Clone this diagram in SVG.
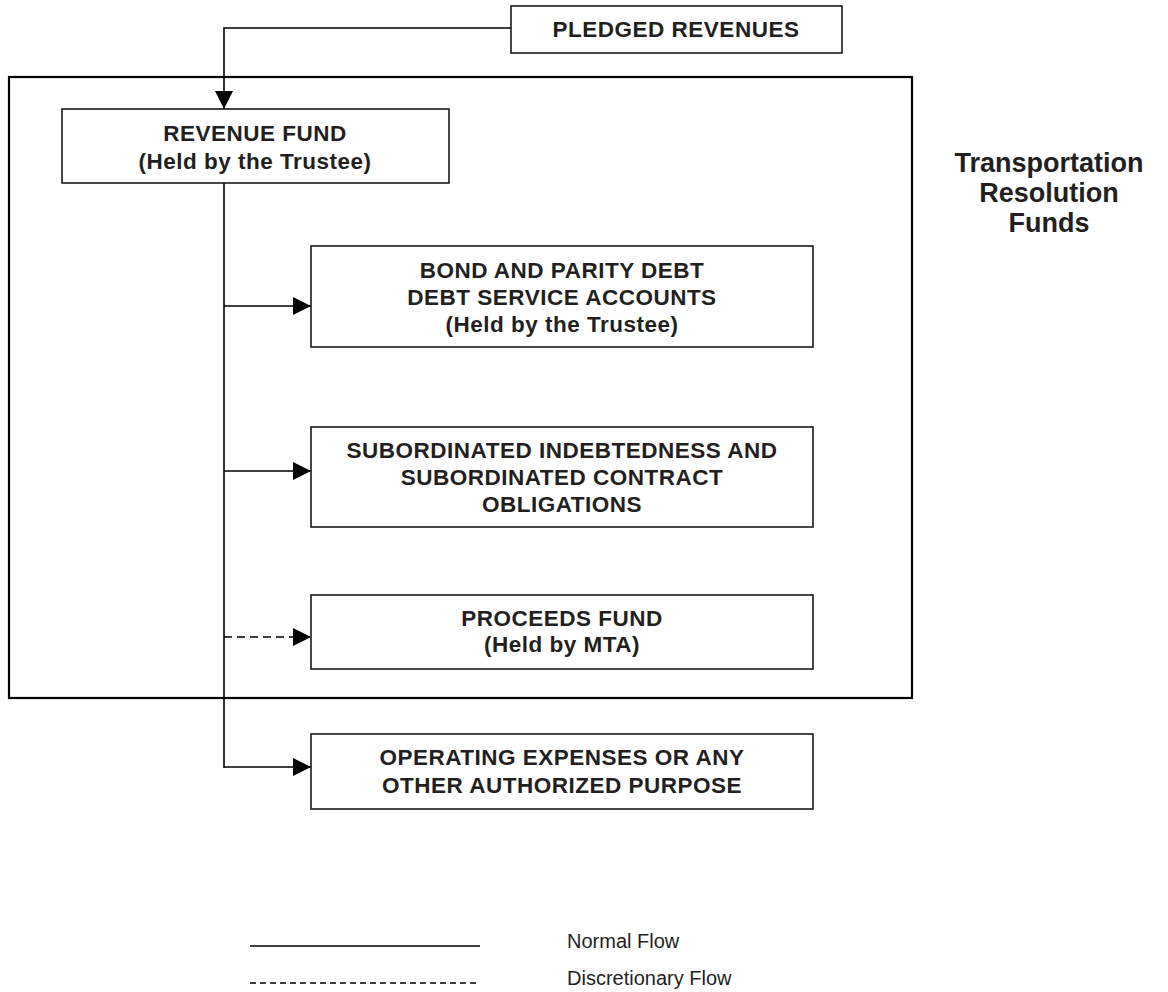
<svg xmlns="http://www.w3.org/2000/svg" width="1168" height="992" viewBox="0 0 1168 992">
<style>
.box{fill:#fff;stroke:#1a1a1a;stroke-width:1.6}
.frame{fill:none;stroke:#000;stroke-width:2.2}
.t{font-family:"Liberation Sans",Arial,sans-serif;font-weight:bold;font-size:22.5px;letter-spacing:0.5px;fill:#231f20;text-anchor:middle}
.big{font-family:"Liberation Sans",Arial,sans-serif;font-weight:bold;font-size:27px;fill:#231f20;text-anchor:middle}
.leg{font-family:"Liberation Sans",Arial,sans-serif;font-size:20px;fill:#231f20}
.c{fill:none;stroke:#000;stroke-width:1.6}
.d{stroke-dasharray:8,5}
</style>
<defs>
<marker id="arr" markerUnits="userSpaceOnUse" markerWidth="18" markerHeight="18" refX="18" refY="9" orient="auto"><path d="M0,0 L18,9 L0,18 z" fill="#000"/></marker>
</defs>
<g id="frame">
<rect class="frame" x="9" y="77" width="903" height="621"/>
<text class="big" x="1049" y="172">Transportation</text>
<text class="big" x="1049" y="202">Resolution</text>
<text class="big" x="1049" y="232">Funds</text>
</g>
<g id="connectors">
<path class="c" d="M511,28 H224 V109" marker-end="url(#arr)"/>
<path class="c" d="M224,183 V768"/>
<path class="c" d="M224,306 H311" marker-end="url(#arr)"/>
<path class="c" d="M224,471 H311" marker-end="url(#arr)"/>
<path class="c d" d="M224,637 H311" marker-end="url(#arr)"/>
<path class="c" d="M224,767 H311" marker-end="url(#arr)"/>
</g>
<g id="pledged">
<rect class="box" x="511" y="6" width="331" height="47"/>
<text class="t" x="676" y="37">PLEDGED REVENUES</text>
</g>
<g id="revenue">
<rect class="box" x="62" y="109" width="387" height="74"/>
<text class="t" x="255" y="141">REVENUE FUND</text>
<text class="t" x="255" y="169">(Held by the Trustee)</text>
</g>
<g id="bond">
<rect class="box" x="311" y="246" width="502" height="101"/>
<text class="t" x="562" y="278">BOND AND PARITY DEBT</text>
<text class="t" x="562" y="305">DEBT SERVICE ACCOUNTS</text>
<text class="t" x="562" y="332">(Held by the Trustee)</text>
</g>
<g id="subordinated">
<rect class="box" x="311" y="427" width="502" height="100"/>
<text class="t" x="562" y="458">SUBORDINATED INDEBTEDNESS AND</text>
<text class="t" x="562" y="485">SUBORDINATED CONTRACT</text>
<text class="t" x="562" y="512">OBLIGATIONS</text>
</g>
<g id="proceeds">
<rect class="box" x="311" y="595" width="502" height="74"/>
<text class="t" x="562" y="626">PROCEEDS FUND</text>
<text class="t" x="562" y="652">(Held by MTA)</text>
</g>
<g id="operating">
<rect class="box" x="311" y="734" width="502" height="75"/>
<text class="t" x="562" y="765">OPERATING EXPENSES OR ANY</text>
<text class="t" x="562" y="793">OTHER AUTHORIZED PURPOSE</text>
</g>
<g id="legend">
<line class="c" x1="250" y1="946" x2="480" y2="946"/>
<line class="c" x1="250" y1="983" x2="480" y2="983" stroke-dasharray="6,4"/>
<text class="leg" x="567" y="948">Normal Flow</text>
<text class="leg" x="567" y="985">Discretionary Flow</text>
</g>
</svg>
